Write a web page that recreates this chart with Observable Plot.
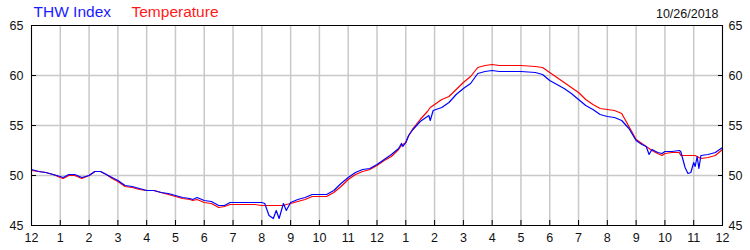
<!DOCTYPE html>
<html>
<head>
<meta charset="utf-8">
<script src="https://cdn.jsdelivr.net/npm/d3@7"></script>
<script src="https://cdn.jsdelivr.net/npm/@observablehq/plot@0.6"></script>
<style>
  html, body { margin: 0; padding: 0; background: #fff; }
</style>
</head>
<body>
<div id="chart"></div>
<script>
// Hours since midnight (10/26/2018)
const hours = [0.0,0.25,0.5,0.75,1.0,1.1,1.3,1.5,1.75,2.0,2.2,2.4,2.6,2.8,3.0,3.25,3.5,3.75,4.0,4.25,4.5,4.75,5.0,5.25,5.5,5.6,5.75,6.0,6.25,6.5,6.7,6.9,7.25,7.5,7.75,8.0,8.1,8.25,8.4,8.5,8.6,8.75,8.85,9.0,9.25,9.5,9.75,10.0,10.25,10.5,10.75,11.0,11.25,11.5,11.75,12.0,12.25,12.5,12.75,12.85,12.9,13.0,13.1,13.25,13.5,13.75,13.8,13.85,13.95,14.25,14.5,14.75,15.0,15.25,15.5,15.75,16.0,16.25,16.5,17.0,17.5,17.75,18.0,18.25,18.5,18.75,19.0,19.25,19.5,19.75,20.0,20.25,20.5,20.75,21.0,21.2,21.35,21.45,21.55,21.75,21.9,22.0,22.25,22.5,22.55,22.7,22.8,22.9,23.0,23.05,23.12,23.18,23.25,23.5,23.75,24.0];
// THW Index (blue)
const thwIndex = [50.6,50.4,50.3,50.1,49.9,49.8,50.1,50.1,49.8,50.0,50.4,50.4,50.1,49.8,49.5,49.0,48.9,48.7,48.5,48.5,48.3,48.2,48.0,47.8,47.7,47.6,47.8,47.5,47.4,47.0,47.0,47.3,47.3,47.3,47.3,47.3,47.2,46.0,45.7,46.5,45.7,47.2,46.5,47.3,47.6,47.8,48.1,48.1,48.1,48.5,49.2,49.8,50.3,50.6,50.7,51.1,51.6,52.1,52.7,53.2,52.9,53.3,54.0,54.6,55.4,55.9,56.0,55.5,56.5,56.8,57.3,58.1,58.7,59.2,60.2,60.4,60.5,60.4,60.4,60.4,60.3,60.1,59.5,59.1,58.7,58.2,57.6,57.0,56.6,56.1,55.9,55.8,55.5,54.7,53.5,53.1,52.9,52.1,52.6,52.3,52.2,52.4,52.4,52.5,52.4,50.8,50.2,50.3,51.3,50.9,51.9,50.7,52.0,52.1,52.3,52.8];
// Temperature (red)
const temperature = [50.5,50.4,50.3,50.1,49.8,49.7,50.0,50.0,49.7,50.0,50.4,50.4,50.1,49.7,49.4,48.9,48.8,48.6,48.5,48.5,48.3,48.1,47.9,47.7,47.6,47.5,47.6,47.3,47.2,46.8,46.9,47.1,47.1,47.1,47.1,47.0,47.0,47.0,47.0,47.0,47.0,47.0,47.1,47.2,47.4,47.6,47.9,47.9,47.9,48.3,48.9,49.6,50.1,50.4,50.6,51.0,51.5,51.9,52.6,53.0,53.1,53.3,54.0,54.7,55.6,56.4,56.6,56.8,57.0,57.6,57.9,58.6,59.3,59.9,60.8,61.0,61.1,61.0,61.0,61.0,60.9,60.8,60.3,59.8,59.3,58.8,58.3,57.6,57.1,56.7,56.6,56.5,56.2,54.9,53.6,53.2,52.9,52.7,52.5,52.2,52.0,52.2,52.3,52.3,52.0,52.0,52.0,52.0,52.0,52.0,51.9,51.8,51.7,51.8,52.0,52.6];

const xTicks = d3.range(0, 25);
const xTickLabels = ["12","1","2","3","4","5","6","7","8","9","10","11","12","1","2","3","4","5","6","7","8","9","10","11","12"];
const yTicks = [45, 50, 55, 60, 65];
const yGrid = [50, 55, 60];
const legendBlue = "THW Index";
const legendRed = "Temperature";
const dateLabel = "10/26/2018";

const data = hours.map((h, i) => ({h, thw: thwIndex[i], temp: temperature[i]}));

const chart = Plot.plot({
  width: 750,
  height: 250,
  marginLeft: 31,
  marginRight: 28,
  marginTop: 25,
  marginBottom: 25,
  style: {fontFamily: "'Liberation Sans', Arial, sans-serif", fontSize: "12.5px", color: "#111", background: "#fff"},
  x: {domain: [0, 24]},
  y: {domain: [45, 65]},
  marks: [
    Plot.gridX(xTicks, {stroke: "#c8c8c8", strokeOpacity: 1, strokeWidth: 1.5}),
    Plot.gridY(yGrid, {stroke: "#c8c8c8", strokeOpacity: 1, strokeWidth: 1.5}),
    Plot.line(data, {x: "h", y: "temp", stroke: "#ff0000", strokeWidth: 1.2}),
    Plot.line(data, {x: "h", y: "thw", stroke: "#0000ff", strokeWidth: 1.2}),
    Plot.frame({stroke: "#000"}),
    // inward ticks
    Plot.axisX(xTicks, {anchor: "bottom", tickSize: 5, dy: -5, fill: "none", label: null, stroke: "#000"}),
    Plot.axisY(yTicks, {anchor: "left", tickSize: 5, dx: 5, fill: "none", label: null, stroke: "#000"}),
    Plot.axisY(yTicks, {anchor: "right", tickSize: 5, dx: -5, fill: "none", label: null, stroke: "#000"}),
    // tick labels
    Plot.axisX(xTicks, {anchor: "bottom", tickSize: 0, tickPadding: 8, label: null, tickFormat: (d, i) => xTickLabels[i]}),
    Plot.axisY(yTicks, {anchor: "left", tickSize: 0, tickPadding: 8, label: null}),
    Plot.axisY(yTicks, {anchor: "right", tickSize: 0, tickPadding: 6, label: null}),
    // header texts
    Plot.text([legendBlue], {text: d => d, frameAnchor: "top-left", textAnchor: "start", lineAnchor: "middle", dx: 2, dy: -13, fill: "#1a1aff", fontSize: 15.5}),
    Plot.text([legendRed], {text: d => d, frameAnchor: "top-left", textAnchor: "start", lineAnchor: "middle", dx: 100, dy: -13, fill: "#ff1a1a", fontSize: 15.5}),
    Plot.text([dateLabel], {text: d => d, frameAnchor: "top-right", textAnchor: "end", lineAnchor: "middle", dx: -4, dy: -12, fill: "#111", fontSize: 12.5})
  ]
});
document.getElementById("chart").appendChild(chart);
</script>
</body>
</html>
